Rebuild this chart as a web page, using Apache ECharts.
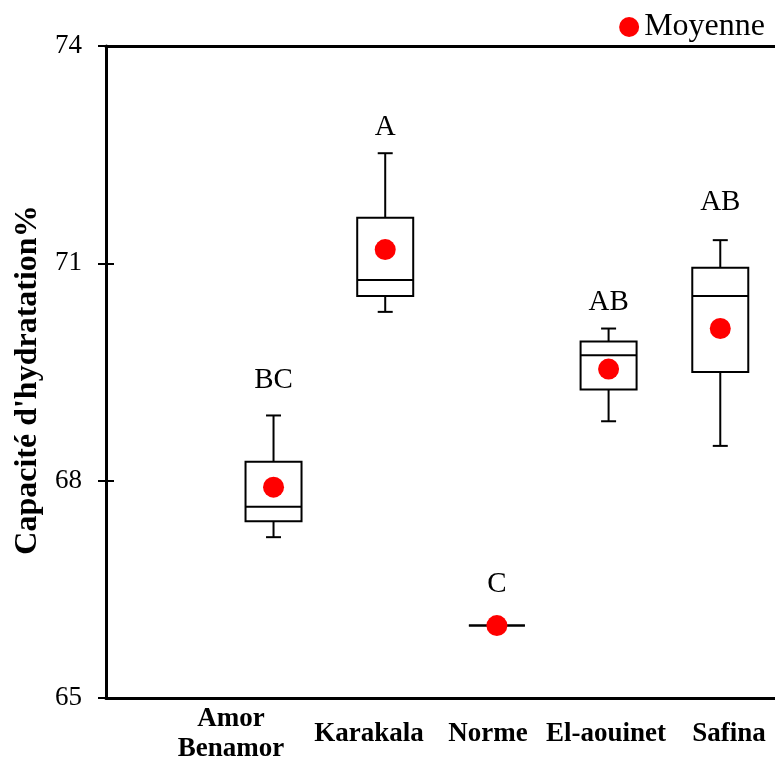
<!DOCTYPE html>
<html>
<head>
<meta charset="utf-8">
<script src="https://cdn.jsdelivr.net/npm/echarts@6/dist/echarts.min.js"></script>
<style>
  html, body { margin: 0; padding: 0; background: #fff; }
  #chart { width: 775px; height: 760px; }
</style>
</head>
<body>
<div id="chart"></div>
<script>
// Varieties and the reference value (Norme)
const categories = ['Amor\nBenamor', 'Karakala', 'Norme', 'El-aouinet', 'Safina'];

// Box statistics per variety (hydration capacity, %)
const whiskerMin = [67.22, 70.33, 66.00, 68.82, 68.48];
const quartile1  = [67.44, 70.55, 66.00, 69.26, 69.50];
const medians    = [67.64, 70.77, 66.00, 69.73, 70.55];
const quartile3  = [68.26, 71.63, 66.00, 69.92, 70.94];
const whiskerMax = [68.90, 72.52, 66.00, 70.10, 71.32];
const means      = [67.91, 71.19, 66.00, 69.54, 70.10];

// Significance groups and the value at which each letter sits
const letters  = ['BC', 'A', 'C', 'AB', 'AB'];
const letterAt = [69.39, 72.88, 66.57, 70.46, 71.84];

// Value-axis ticks
const yTicks = [65, 68, 71, 74];

const FONT = '"Liberation Serif", "Times New Roman", serif';

// Where the category names sit along the x axis (axis units)
const LABEL_SLOTS = [-0.38, 0.855, 1.92, 2.977, 4.078];

const boxData = categories.map((c, i) => [i, whiskerMin[i], quartile1[i], medians[i], quartile3[i], whiskerMax[i], letterAt[i]]);
const meanData = categories.map((c, i) => [i, means[i]]);

function renderBox(params, api) {
  const i = api.value(0);
  const pMin = api.coord([i, api.value(1)]);
  const pQ1 = api.coord([i, api.value(2)]);
  const pMed = api.coord([i, api.value(3)]);
  const pQ3 = api.coord([i, api.value(4)]);
  const pMax = api.coord([i, api.value(5)]);
  const pTxt = api.coord([i, api.value(6)]);
  const x = pMed[0];
  const half = 28, cap = 7.5;
  const stroke = { stroke: '#000', lineWidth: 2, fill: null };
  return {
    type: 'group',
    children: [
      { type: 'line', shape: { x1: x, y1: pMax[1], x2: x, y2: pQ3[1] }, style: stroke },
      { type: 'line', shape: { x1: x - cap, y1: pMax[1], x2: x + cap, y2: pMax[1] }, style: stroke },
      { type: 'line', shape: { x1: x, y1: pQ1[1], x2: x, y2: pMin[1] }, style: stroke },
      { type: 'line', shape: { x1: x - cap, y1: pMin[1], x2: x + cap, y2: pMin[1] }, style: stroke },
      { type: 'rect', shape: { x: x - half, y: pQ3[1], width: half * 2, height: pQ1[1] - pQ3[1] },
        style: { stroke: '#000', lineWidth: 2, fill: '#fff' } },
      { type: 'line', shape: { x1: x - half, y1: pMed[1], x2: x + half, y2: pMed[1] }, style: stroke },
      { type: 'text', x: x, y: pTxt[1],
        style: { text: letters[i], textAlign: 'center', textVerticalAlign: 'middle',
                 font: '29px ' + FONT, fill: '#000' } }
    ]
  };
}

function categoryAt(v) {
  let best = 0;
  LABEL_SLOTS.forEach((s, k) => { if (Math.abs(s - v) < Math.abs(LABEL_SLOTS[best] - v)) best = k; });
  return categories[best];
}

const chart = echarts.init(document.getElementById('chart'), null, { renderer: 'canvas' });
chart.setOption({
  animation: false,
  backgroundColor: '#fff',
  grid: { left: 106, right: 0, top: 46, bottom: 62, containLabel: false, outerBoundsMode: 'none' },
  legend: {
    data: [{ name: 'Moyenne', icon: 'circle' }],
    right: 5, top: 6, itemWidth: 20, itemHeight: 20,
    textStyle: { fontFamily: FONT, fontSize: 32, color: '#000' }
  },
  xAxis: [{
    type: 'value', min: -1.5, max: 4.49, position: 'bottom',
    axisLine: { show: true, onZero: false, lineStyle: { color: '#000', width: 3 } },
    axisTick: { show: false },
    splitLine: { show: false },
    axisLabel: {
      customValues: LABEL_SLOTS,
      formatter: v => categoryAt(v),
      fontFamily: FONT, fontSize: 27, fontWeight: 'bold', color: '#000',
      lineHeight: 30, verticalAlign: 'middle', margin: 36
    }
  }, {
    type: 'value', min: -1.5, max: 4.49, position: 'top',
    axisLine: { show: true, onZero: false, lineStyle: { color: '#000', width: 3 } },
    axisTick: { show: false }, axisLabel: { show: false }, splitLine: { show: false }
  }],
  yAxis: [{
    type: 'value', min: 65, max: 74, interval: 3,
    name: "Capacité d'hydratation%", nameLocation: 'middle', nameGap: 61,
    nameTextStyle: { fontFamily: FONT, fontSize: 32, fontWeight: 'bold', color: '#000', padding: [0, 16, 0, 0] },
    axisLine: { show: true, onZero: false, lineStyle: { color: '#000', width: 3 } },
    axisTick: { show: true, inside: false, length: 8, lineStyle: { color: '#000', width: 2 } },
    splitLine: { show: false },
    axisLabel: {
      customValues: yTicks,
      fontFamily: FONT, fontSize: 27, color: '#000', margin: 24
    }
  }, {
    type: 'value', min: 65, max: 74, interval: 3, position: 'left',
    axisLine: { show: false, onZero: false },
    axisTick: { show: true, inside: true, length: 8, lineStyle: { color: '#000', width: 2 } },
    axisLabel: { show: false }, splitLine: { show: false }
  }],
  series: [{
    type: 'custom',
    name: 'Boîtes',
    xAxisIndex: 0, yAxisIndex: 0,
    renderItem: renderBox,
    encode: { x: 0, y: [1, 2, 3, 4, 5] },
    data: boxData,
    z: 2
  }, {
    type: 'scatter',
    name: 'Moyenne',
    xAxisIndex: 0, yAxisIndex: 0,
    symbol: 'circle', symbolSize: 21,
    itemStyle: { color: '#ff0000', opacity: 1 },
    data: meanData,
    z: 3
  }]
});
</script>
</body>
</html>
